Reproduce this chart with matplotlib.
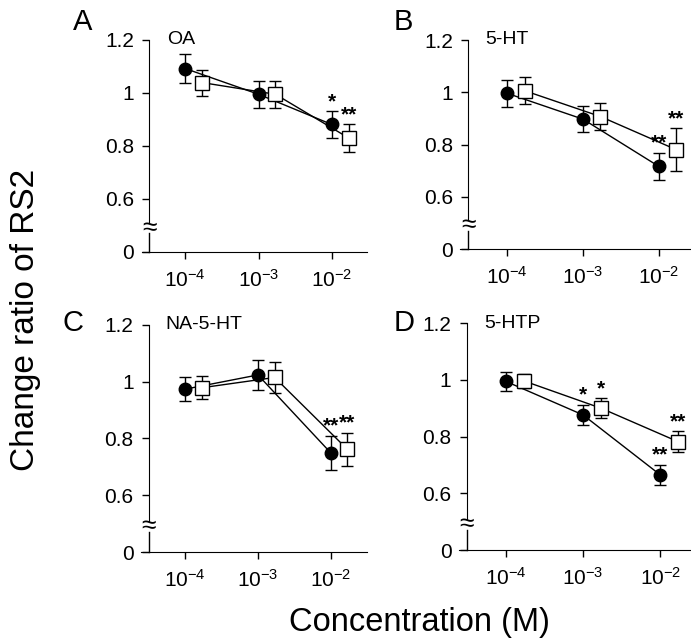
import numpy as np
import matplotlib
matplotlib.use("Agg")
import matplotlib.pyplot as plt

plt.rcParams['font.family'] = ['Liberation Sans', 'DejaVu Sans']
plt.rcParams['mathtext.fontset'] = 'custom'
plt.rcParams['mathtext.rm'] = 'Liberation Sans'
plt.rcParams['mathtext.it'] = 'Liberation Sans'

# data
conc = [1e-4, 1e-3, 1e-2]
names = ["OA", "5-HT", "NA-5-HT", "5-HTP"]
letters = ["A", "B", "C", "D"]

circ_mean = [[1.092, 0.995, 0.881],
             [0.996, 0.897, 0.716],
             [0.974, 1.024, 0.750],
             [0.994, 0.876, 0.665]]
circ_err = [[0.056, 0.050, 0.050],
            [0.052, 0.050, 0.052],
            [0.041, 0.052, 0.060],
            [0.035, 0.036, 0.035]]
sq_mean = [[1.039, 0.995, 0.830],
           [1.006, 0.907, 0.780],
           [0.979, 1.015, 0.762],
           [0.996, 0.900, 0.782]]
sq_err = [[0.049, 0.050, 0.051],
          [0.051, 0.050, 0.083],
          [0.041, 0.053, 0.059],
          [0.026, 0.034, 0.036]]
# significance marks: (series, index, label)
stars = [[("c", 2, "*"), ("s", 2, "**")],
         [("c", 2, "**"), ("s", 2, "**")],
         [("c", 2, "**"), ("s", 2, "**")],
         [("c", 1, "*"), ("s", 1, "*"), ("c", 2, "**"), ("s", 2, "**")]]

sq_shift = 1.7  # open squares drawn slightly to the right

# axes rectangles in figure fraction
rects = [[0.2055, 0.6063, 0.3256, 0.3313],
         [0.6657, 0.6109, 0.3329, 0.3266],
         [0.2040, 0.1375, 0.3270, 0.3547],
         [0.6643, 0.1406, 0.3357, 0.3547]]
xlims = [(-4.59, -1.52), (-4.62, -1.59), (-4.61, -1.50), (-4.61, -1.60)]
spine_x = [-4.493, -4.513, -4.50, -4.51]
letter_pos = [(0.105, 0.965), (0.570, 0.965), (0.090, 0.495), (0.570, 0.495)]

fig = plt.figure(figsize=(6.91, 6.4), dpi=100)

for i in range(4):
    ax = fig.add_axes(rects[i])
    ax.set_xscale('log')
    ax.set_xlim(10**xlims[i][0], 10**xlims[i][1])
    ax.set_ylim(0.4, 1.2)
    x_c = np.array(conc)
    x_s = x_c * sq_shift
    ax.plot(x_c, circ_mean[i], color='black', lw=1, zorder=2)
    ax.plot(x_s, sq_mean[i], color='black', lw=1, zorder=2)
    ax.errorbar(x_c, circ_mean[i], yerr=circ_err[i], fmt='o', color='black',
                ms=9, mfc='black', mec='black', ecolor='black', elinewidth=1,
                capsize=4, capthick=1, zorder=3)
    ax.errorbar(x_s, sq_mean[i], yerr=sq_err[i], fmt='s', color='black',
                ms=9.5, mfc='white', mec='black', mew=1, ecolor='black',
                elinewidth=1, capsize=4, capthick=1, zorder=4)
    for ser, k, lab in stars[i]:
        if ser == "c":
            xx, yy = x_c[k], circ_mean[i][k] + circ_err[i][k]
        else:
            xx, yy = x_s[k], sq_mean[i][k] + sq_err[i][k]
        ax.annotate(lab, (xx, yy), xytext=(0, 0), textcoords='offset points',
                    ha='center', va='bottom', fontsize=15, fontweight='bold')

    for s in ['top', 'right']:
        ax.spines[s].set_visible(False)
    sx = 10**spine_x[i]
    ax.spines['left'].set_position(('data', sx))
    ax.spines['left'].set_bounds(0.51, 1.2)
    ax.plot([sx, sx], [0.4, 0.47], color='black', lw=1, clip_on=False)
    ax.text(sx, 0.49, '≈', ha='center', va='center', fontsize=19)

    ax.set_yticks([0.4, 0.6, 0.8, 1.0, 1.2])
    ax.set_yticklabels(['0', '0.6', '0.8', '1', '1.2'])
    ax.set_xticks(conc)
    ax.set_xticklabels([r'$10^{-4}$', r'$10^{-3}$', r'$10^{-2}$'])
    ax.xaxis.set_minor_locator(matplotlib.ticker.NullLocator())
    ax.tick_params(axis='both', labelsize=15, length=5, width=1, direction='out')
    ax.tick_params(axis='x', pad=7)
    ax.tick_params(axis='y', pad=6)
    ax.patch.set_visible(False)

    ax.text(0.11, 1.0, names[i], transform=ax.transAxes, fontsize=14,
            ha='left', va='center')
    fig.text(letter_pos[i][0], letter_pos[i][1], letters[i], fontsize=21,
             ha='left', va='center')

fig.text(0.037, 0.5, "Change ratio of RS2", rotation=90, fontsize=24,
         ha='center', va='center')
fig.text(0.607, 0.028, "Concentration (M)", fontsize=23.5, ha='center',
         va='center')

fig.savefig("out.png", dpi=100)
